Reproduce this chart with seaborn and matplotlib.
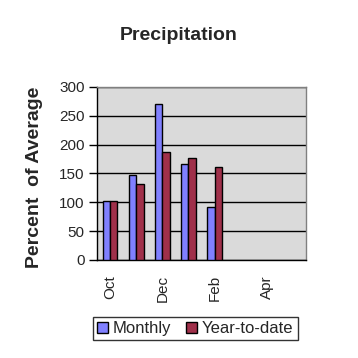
import matplotlib
matplotlib.use("Agg")
import matplotlib.pyplot as plt
import seaborn as sns
import pandas as pd
import numpy as np

months = ["Oct", "Nov", "Dec", "Jan", "Feb", "Mar", "Apr", "May"]
tick_labels = ["Oct", "", "Dec", "", "Feb", "", "Apr", ""]
monthly = [102, 148, 270, 166, 91, np.nan, np.nan, np.nan]
year_to_date = [102, 131, 187, 176, 161, np.nan, np.nan, np.nan]
series = ["Monthly", "Year-to-date"]

df = pd.DataFrame({
    "Month": months * 2,
    "Series": [series[0]] * len(months) + [series[1]] * len(months),
    "Value": monthly + year_to_date,
})

sns.set_style("white")
plt.rcParams["font.family"] = ["Liberation Sans", "DejaVu Sans"]

fig = plt.figure(figsize=(3.58, 3.58), dpi=100)
ax = fig.add_axes([0.271, 0.274, 0.584, 0.483])
ax.set_facecolor("#dadada")

palette = {"Monthly": "#8080ff", "Year-to-date": "#a0304a"}
sns.barplot(data=df, x="Month", y="Value", hue="Series", order=months,
            hue_order=series, palette=palette, width=0.56, dodge=True,
            edgecolor="black", linewidth=1.0, saturation=1, ax=ax, zorder=3)

ax.set_ylim(0, 300)
ax.set_yticks(range(0, 301, 50))
ax.set_xlim(-0.5, len(months) - 0.5)
ax.yaxis.grid(True, color="black", linewidth=1.0, zorder=1)
ax.set_axisbelow(True)

ax.set_xticks(range(len(months)))
ax.set_xticklabels(tick_labels, rotation=90, fontsize=11)
ax.tick_params(axis="x", length=0, pad=11)
# category boundary ticks
ax.set_xticks(np.arange(-0.5, len(months), 1.0), minor=True)
ax.tick_params(axis="x", which="minor", direction="inout", length=9, width=1, color="black")
ax.tick_params(axis="y", direction="out", length=6, width=1, color="black", labelsize=11, left=True, pad=3)

for s in ["left", "bottom"]:
    ax.spines[s].set_color("black")
    ax.spines[s].set_linewidth(1)
for s in ["top", "right"]:
    ax.spines[s].set_color("#808080")
    ax.spines[s].set_linewidth(1)

ax.set_xlabel("")
ax.set_ylabel("Percent  of Average", fontsize=14, fontweight="bold")
ax.yaxis.set_label_coords(-0.26, 0.48)
fig.suptitle("Precipitation", x=0.5, y=0.925, fontsize=14, fontweight="bold")

leg = ax.legend(loc="upper center", bbox_to_anchor=(0.47, -0.33), ncol=2,
                frameon=True, fancybox=False, edgecolor="black", fontsize=12,
                handlelength=0.65, handleheight=0.65, handletextpad=0.3,
                columnspacing=0.9, borderpad=0.25, borderaxespad=0)
leg.get_frame().set_linewidth(1)

fig.savefig("out.png", dpi=100, facecolor="white")
